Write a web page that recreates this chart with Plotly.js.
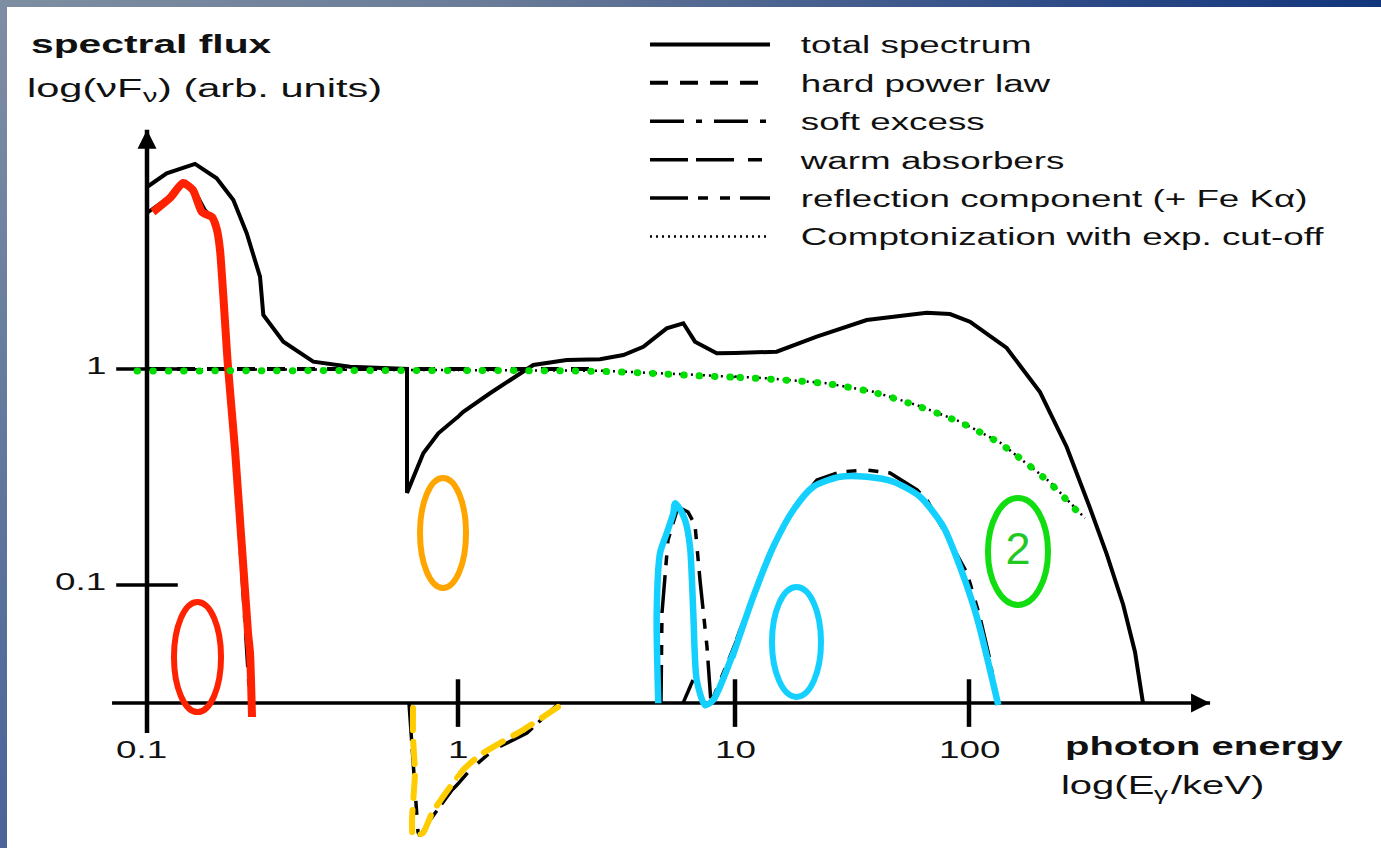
<!DOCTYPE html>
<html>
<head>
<meta charset="utf-8">
<script src="https://cdn.plot.ly/plotly-3.0.1.min.js"></script>
<style>
html,body{margin:0;padding:0;background:#fff;}
body{width:1381px;height:848px;overflow:hidden;position:relative;}
#topbar{position:absolute;left:0;top:0;width:1381px;height:7px;background:linear-gradient(to right,#7e8ea2 0%,#6a7c98 35%,#2a4886 80%,#12367c 100%);}
#leftbar{position:absolute;left:0;top:0;width:7px;height:848px;background:linear-gradient(to bottom,#7e8ea2 0%,#4a6499 100%);}
#chart{position:absolute;left:7px;top:7px;width:1374px;height:841px;}
text.annotation-text, text.legendtext{transform-box:fill-box;transform-origin:50% 50%;transform:scaleX(1.6);}
text.annotation-text[text-anchor="start"], text.legendtext{transform-origin:0% 50%;}
text.annotation-text[text-anchor="end"]{transform-origin:100% 50%;}
[class*="tracegreendots"] path.js-line, [class*="traceyellowdash"] path.js-line{stroke-linecap:round;}
</style>
</head>
<body>
<div id="topbar"></div>
<div id="leftbar"></div>
<div id="chart"></div>
<script>
// ---------------- data: photon energy (keV) and spectral flux (arb. units) ----------------
const totalE = [0.1, 0.1157, 0.1427, 0.1675, 0.1895, 0.2092, 0.2309, 0.2366, 0.2744, 0.3425, 0.4495, 0.6855, 0.6855, 0.7734, 0.8643, 1.045, 1.305, 1.87, 2.469, 3.255, 3.953, 4.667, 5.667, 6.508, 7.171, 8.59, 15.07, 22.35, 36.54, 65.95, 82.95, 101, 144.9, 201.1, 261.5, 328.9, 387.7, 456.3, 512.2, 554.1];
const totalF = [6.96, 8.05, 8.90, 7.64, 6.06, 4.25, 2.675, 1.778, 1.338, 1.081, 1.025, 1.0, 0.267, 0.407, 0.504, 0.634, 0.772, 1.044, 1.10, 1.11, 1.16, 1.268, 1.543, 1.628, 1.338, 1.182, 1.202, 1.411, 1.686, 1.822, 1.797, 1.656, 1.251, 0.782, 0.4355, 0.2272, 0.1391, 0.0808, 0.049, 0.0284];

const powerE = [0.1, 3];
const powerF = [1, 1];

const softE = [0.1, 0.1186, 0.1334, 0.1448, 0.1537, 0.1631, 0.1692, 0.1808, 0.1905, 0.2006, 0.2128, 0.2144];
const softF = [5.275, 6.32, 7.34, 6.39, 5.445, 5.0, 3.956, 1.021, 0.4217, 0.1305, 0.0326, 0.0284];

const warmE = [0.6958, 0.7166, 0.7437, 0.7548, 0.8128, 0.9565, 1.105, 1.338, 1.774, 2.278];
const warmF = [0.0284, 0.01548, 0.00719, 0.00689, 0.00817, 0.01124, 0.01391, 0.01722, 0.02065, 0.0278];

const reflE = [6.492, 7.054, null, 5.405, 5.45, 5.73, 6.227, 6.767, 7.171, 7.475, 7.925, 8.19, 9.357, 10.5, 12.79, 15.57, 18.96, 22.41, 28.1, 36.65, 45.97, 59.95, 66.15, 85.43, 98.06, 111.4, 122.9, 131.7];
const reflF = [0.0284, 0.03633, null, 0.0284, 0.07421, 0.1616, 0.2297, 0.2178, 0.1896, 0.1055, 0.0516, 0.0284, 0.04355, 0.06188, 0.1055, 0.1741, 0.2474, 0.3062, 0.3336, 0.3407, 0.33, 0.2753, 0.2474, 0.15, 0.1136, 0.0711, 0.045, 0.0284];

const comptE = [0.1, 3.255, 7.475, 13.66, 24.66, 38.99, 59.77, 91.5, 135.7, 221.8, 313.1];
const comptF = [1, 0.982, 0.938, 0.906, 0.859, 0.785, 0.681, 0.571, 0.457, 0.2997, 0.204];

// hand-drawn colour highlights over the components
const redE = [0.1045, 0.1186, 0.1305, 0.1405, 0.1502, 0.1618, 0.1679, 0.1717, 0.1822, 0.1919, 0.2113, 0.2144, 0.2176];
const redF = [5.33, 6.19, 7.26, 6.74, 5.33, 5.055, 4.40, 3.556, 1.021, 0.4217, 0.05995, 0.04844, 0.02448];

const yellowE = [0.7166, 0.7166, 0.7273, 0.7114, 0.7166, 0.7718, 0.825, 0.9426, 1.0425, 1.2006, 1.418, 1.717, 2.296];
const yellowF = [0.02695, 0.01978, 0.01348, 0.00817, 0.00689, 0.00711, 0.0088, 0.01161, 0.01391, 0.01633, 0.01856, 0.02132, 0.02723];

const cyanE = [5.285, 5.216, 5.36, 5.667, 5.988, 6.072, 6.241, 6.601, 6.88, 7.071, 7.275, 7.794, 8.351, 9.86, 11.97, 14.58, 17.75, 21.61, 28.1, 36.54, 47.48, 61.75, 77.66, 91.5, 107.9, 133.4];
const cyanF = [0.02834, 0.07396, 0.1402, 0.1735, 0.2148, 0.2389, 0.2305, 0.2, 0.1504, 0.07396, 0.03633, 0.0278, 0.02935, 0.04828, 0.08826, 0.1504, 0.2225, 0.2851, 0.3172, 0.3172, 0.3008, 0.2563, 0.1862, 0.1216, 0.0713, 0.0278];

const greenE = [0.0929, 3.255, 7.475, 13.66, 24.66, 38.99, 59.77, 91.5, 135.7, 221.8, 313.1];
const greenF = [0.978, 0.975, 0.93, 0.90, 0.855, 0.78, 0.676, 0.566, 0.452, 0.296, 0.20];

// highlight rings (energy / flux extents) and the label "2"
const ringE0 = [0.1221, 0.7548, 14.39, 120.5];
const ringE1 = [0.173, 1.069, 23.31, 217.6];
const ringF0 = [0.0258, 0.0969, 0.0303, 0.0808];
const ringF1 = [0.0834, 0.3129, 0.0979, 0.2528];
const markE = [162];
const markF = [0.1406];
const markText = ['2'];

// axes frame
const axisFloor = 0.0284;
const xAxisE = [0.0772, 1072];
const yAxisF = [0.02065, 12.8];
const xTickVals = [0.1, 1, 10, 100];
const xTickText = ['0.1', '1', '10', '100'];
const yTickVals = [1, 0.1];
const yTickText = ['1', '0.1'];

const legendLabels = ['total spectrum', 'hard power law', 'soft excess', 'warm absorbers',
  'reflection component (+ Fe Kα)', 'Comptonization with exp. cut-off'];
const yTitleMain = 'spectral flux';
const yTitleParts = ['log(νF', 'ν', ') (arb. units)'];   // main, subscript, main
const xTitleMain = 'photon energy';
const xTitleParts = ['log(E', 'γ', '/keV)'];

// ---------------- layout helpers ----------------
const LOG = Math.log10;
const W = 1374, H = 841;
// one log axis per decade (the schematic's decades are not equally wide)
const axesDef = [
  {id: 'x',  key: 'xaxis',  lo: -1 - 140 / 311, hi: 0, d0: 0, d1: 451 / W},
  {id: 'x2', key: 'xaxis2', lo: 0, hi: 1, d0: 451 / W, d1: 728 / W},
  {id: 'x3', key: 'xaxis3', lo: 1, hi: 2, d0: 728 / W, d1: 962 / W},
  {id: 'x4', key: 'xaxis4', lo: 2, hi: 2 + 412 / 234, d0: 962 / W, d1: 1}
];
function axisFor(e) {
  const lg = LOG(e);
  for (const a of axesDef) { if (lg >= a.lo && lg < a.hi) return a; }
  return axesDef[axesDef.length - 1];
}
function paperX(e) {
  const a = axisFor(e), lg = LOG(e);
  return a.d0 + (lg - a.lo) / (a.hi - a.lo) * (a.d1 - a.d0);
}
let uidCount = 0;
function spread(base, uidName) {
  return axesDef.map((a, i) => Object.assign({}, base, {
    xaxis: a.id, yaxis: 'y',
    showlegend: i === 0 && base.showlegend === true,
    uid: (uidName || 'tr') + (uidCount++)
  }));
}

const FONT = 'Liberation Sans, Arial, Helvetica, sans-serif';
const LEGEND_PAD = '\u2002\u2009';
const data = [];

// axes lines, arrow heads and tick marks
data.push(...spread({x: xAxisE, y: [axisFloor, axisFloor], mode: 'lines', line: {color: '#000', width: 3.5}, hoverinfo: 'skip', showlegend: false}));
data.push({x: [0.1, 0.1], y: yAxisF, mode: 'lines', line: {color: '#000', width: 4.5}, xaxis: 'x', yaxis: 'y', showlegend: false, hoverinfo: 'skip'});
data.push({x: [xAxisE[1]], y: [axisFloor], mode: 'markers', xaxis: axisFor(xAxisE[1]).id, yaxis: 'y',
  marker: {symbol: 'arrow-right', size: 19, color: '#000', line: {width: 0}}, showlegend: false, hoverinfo: 'skip'});
data.push({x: [0.1], y: [yAxisF[1]], mode: 'markers', xaxis: 'x', yaxis: 'y',
  marker: {symbol: 'arrow-up', size: 19, color: '#000', line: {width: 0}}, showlegend: false, hoverinfo: 'skip'});
const xMarks = xTickVals.filter(v => v > 0.1);
data.push(...spread({x: xMarks, y: xMarks.map(() => axisFloor), mode: 'markers',
  marker: {symbol: 'line-ns', size: 34, color: '#000', line: {color: '#000', width: 4.5}}, showlegend: false, hoverinfo: 'skip'}));
data.push({x: yTickVals.map(() => 0.1), y: yTickVals, mode: 'markers', xaxis: 'x', yaxis: 'y',
  marker: {symbol: 'line-ew', size: 44, color: '#000', line: {color: '#000', width: 3.5}}, showlegend: false, hoverinfo: 'skip'});

// spectral components (black)
const comps = [
  {x: totalE, y: totalF, dash: 'solid', width: 4},
  {x: powerE, y: powerF, dash: '18px,12px', width: 4},
  {x: softE, y: softF, dash: '34px,12px,6px,12px', width: 3.5},
  {x: warmE, y: warmF, dash: '38px,8px,38px,14px,14px,14px', width: 3.5},
  {x: reflE, y: reflF, dash: '38px,10px,10px,12px,10px,10px', width: 3.5},
  {x: comptE, y: comptF, dash: '2px,4px', width: 2.5}
];
comps.forEach((c, i) => {
  data.push(...spread({
    x: c.x, y: c.y, mode: 'lines', name: LEGEND_PAD + legendLabels[i], legendgroup: 'g' + i,
    line: {color: '#000', width: c.width, dash: c.dash}, connectgaps: false,
    showlegend: true, hoverinfo: 'skip'
  }));
});

// colour highlights
data.push(...spread({x: redE, y: redF, mode: 'lines', line: {color: '#ff2200', width: 8, shape: 'spline', smoothing: 0.6}, showlegend: false, hoverinfo: 'skip'}));
data.push(...spread({x: cyanE, y: cyanF, mode: 'lines', line: {color: '#14d0ff', width: 6.5, shape: 'spline', smoothing: 0.7}, showlegend: false, hoverinfo: 'skip'}));
data.push(...spread({x: yellowE, y: yellowF, mode: 'lines', line: {color: '#ffcc00', width: 6, dash: '22px,12px', shape: 'spline', smoothing: 0.5}, showlegend: false, hoverinfo: 'skip'}, 'yellowdash'));
data.push(...spread({x: greenE, y: greenF, mode: 'lines', line: {color: '#00dd00', width: 7, dash: '0.5px,15px', shape: 'spline', smoothing: 0.8}, showlegend: false, hoverinfo: 'skip'}, 'greendots'));
data.push({x: markE, y: markF, mode: 'text', text: markText, textposition: 'middle center', xaxis: axisFor(markE[0]).id, yaxis: 'y',
  textfont: {family: FONT, size: 45, color: '#22c822'}, showlegend: false, hoverinfo: 'skip'});

// ---------------- annotations ----------------
const annotations = [];
const ttl = (text, xpx, ypx, size) => ({xref: 'paper', yref: 'paper', x: xpx / W, y: 1 - ypx / H, xanchor: 'left', yanchor: 'middle', align: 'left',
  text, showarrow: false, font: {family: FONT, size, color: '#111'}});
annotations.push(ttl('<b>' + yTitleMain + '</b>', 22, 37, 25.5));
annotations.push(ttl(yTitleParts[0], 18, 81, 26));
annotations.push(ttl(yTitleParts[1], 134, 89.2, 18));
annotations.push(ttl(yTitleParts[2], 149, 81, 26));
annotations.push(ttl('<b>' + xTitleMain + '</b>', 1056, 740, 25));
annotations.push(ttl(xTitleParts[0], 1052, 779, 25));
annotations.push(ttl(xTitleParts[1], 1145, 786.8, 17.5));
annotations.push(ttl(xTitleParts[2], 1162, 779, 25));
xTickVals.forEach((v, i) => annotations.push({
  xref: axisFor(v).id, x: LOG(v), yref: 'y', y: LOG(axisFloor), yanchor: 'middle', xanchor: 'center', yshift: -47,
  xshift: v < 1 ? -6 : 0,
  text: xTickText[i], showarrow: false, font: {family: FONT, size: 23, color: '#111'}
}));
yTickVals.forEach((v, i) => annotations.push({
  xref: 'x', x: LOG(0.1), yref: 'y', y: LOG(v), xanchor: 'right', align: 'right', yanchor: 'middle', xshift: -39, yshift: 3,
  text: yTickText[i], showarrow: false, font: {family: FONT, size: 23, color: '#111'}
}));

// ---------------- rings ----------------
const ringColors = ['#ff2200', '#ffa500', '#14d0ff', '#11dd11'];
const shapes = ringE0.map((e0, i) => ({
  type: 'circle', xref: 'paper', yref: 'y', x0: paperX(e0), x1: paperX(ringE1[i]), y0: ringF0[i], y1: ringF1[i],
  line: {color: ringColors[i], width: 6}, layer: 'above'
}));

const layout = {
  width: W, height: H, autosize: false,
  margin: {l: 0, r: 0, t: 0, b: 0, pad: 0},
  paper_bgcolor: '#ffffff', plot_bgcolor: 'rgba(0,0,0,0)',
  font: {family: FONT, color: '#111'},
  hovermode: false, dragmode: false, showlegend: true,
  yaxis: {type: 'log', range: [-479 / 216, 362 / 216], domain: [0, 1], visible: false, anchor: 'x', fixedrange: true},
  legend: {x: 638 / W, xanchor: 'left', y: 1 - 16 / H, yanchor: 'top', itemwidth: 120, traceorder: 'grouped', tracegroupgap: 5.5,
    font: {family: FONT, size: 23, color: '#111'}, bgcolor: 'rgba(0,0,0,0)', borderwidth: 0},
  annotations, shapes
};
axesDef.forEach(a => {
  layout[a.key] = {type: 'log', range: [a.lo, a.hi], domain: [a.d0, a.d1], visible: false, anchor: 'y', fixedrange: true};
});

Plotly.newPlot('chart', data, layout, {staticPlot: true, displayModeBar: false});
</script>
</body>
</html>
